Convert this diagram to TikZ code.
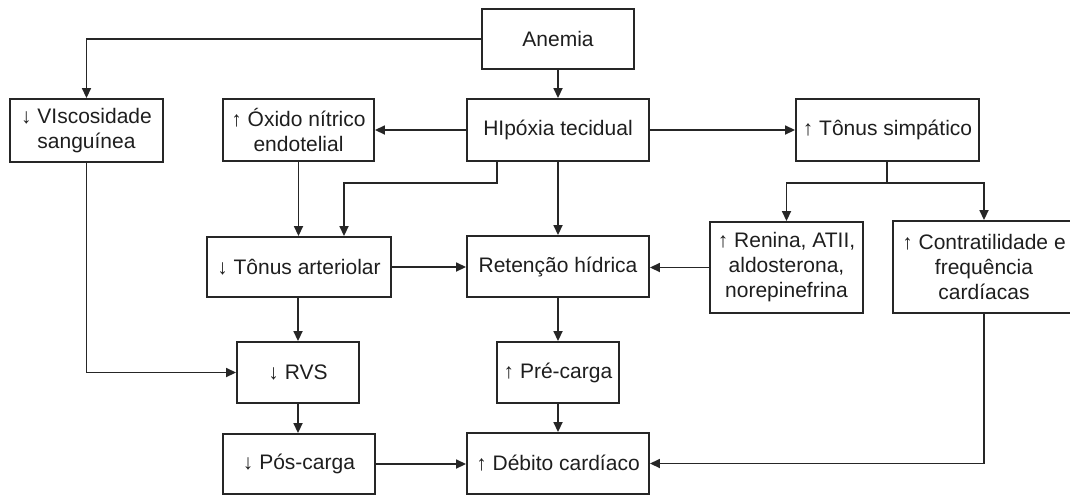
\documentclass[tikz,border=0pt]{standalone}
\usepackage{fontspec}
\setmainfont{Liberation Sans}
\usetikzlibrary{arrows.meta}
\definecolor{ln}{HTML}{262626}
\definecolor{tx}{HTML}{1E1E1E}
\begin{document}
\begin{tikzpicture}[x=1pt,y=-1pt,
  box/.style={draw=ln, line width=1.9pt, inner sep=0pt, align=center, text=tx,
    font=\fontsize{21}{25}\selectfont},
  conn/.style={draw=ln, line width=1.7pt, -{Triangle[length=10pt,width=9pt]}},
  plain/.style={draw=ln, line width=1.7pt}]
\useasboundingbox (0,0) rectangle (1070,496);
\node[box, minimum width=152pt, minimum height=60pt] (anemia) at (558,39) {Anemia};
\node[box, minimum width=153pt, minimum height=63pt] (visc) at (86.5,130.5) {↓ VIscosidade\\sanguínea};
\node[box, minimum width=151pt, minimum height=62pt] (oxido) at (298.5,130) {↑ Óxido nítrico\\endotelial};
\node[box, minimum width=182pt, minimum height=62pt] (hipoxia) at (558,130) {HIpóxia tecidual};
\node[box, minimum width=183pt, minimum height=62pt] (tonsimp) at (887.5,130) {↑ Tônus simpático};
\node[box, minimum width=184pt, minimum height=60pt] (tonart) at (299,267) {↓ Tônus arteriolar};
\node[box, minimum width=182pt, minimum height=61pt] (retencao) at (558,266.5) {Retenção hídrica};
\node[box, minimum width=153pt, minimum height=91pt] (renina) at (786.5,267.5) {↑ Renina, ATII,\\aldosterona,\\norepinefrina};
\node[box, minimum width=182pt, minimum height=92pt] (contrat) at (984,267) {↑ Contratilidade e\\frequência\\cardíacas};
\node[box, minimum width=122pt, minimum height=61pt] (rvs) at (298,372.5) {↓ RVS};
\node[box, minimum width=122pt, minimum height=61pt] (precarga) at (558,372.5) {↑ Pré-carga};
\node[box, minimum width=152pt, minimum height=60pt] (poscarga) at (299,464) {↓ Pós-carga};
\node[box, minimum width=182pt, minimum height=61pt] (debito) at (558,463.5) {↑ Débito cardíaco};

\coordinate (h1) at (497,183);
\coordinate (h2) at (344,183);
\coordinate (s1) at (887,183);
\coordinate (s2) at (786.5,183);
\coordinate (s3) at (984,183);

\draw[conn] (anemia) -- (hipoxia);
\draw[conn] (anemia.west) -| (visc.north);
\draw[conn] (hipoxia.west) -- (oxido.east);
\draw[conn] (hipoxia.east) -- (tonsimp.west);
\draw[conn] (oxido.south) -- (oxido.south |- tonart.north);
\draw[conn] (hipoxia.south -| h1) -- (h1) -- (h2) -- (h2 |- tonart.north);
\draw[conn] (hipoxia) -- (retencao);
\draw[plain] (tonsimp.south -| s1) -- (s1);
\draw[conn] (s1) -- (s2) -- (renina.north);
\draw[conn] (s1) -- (s3) -- (contrat.north);
\draw[conn] (tonart.east) -- (tonart.east -| retencao.west);
\draw[conn] (renina.west) -- (renina.west -| retencao.east);
\draw[conn] (tonart.south -| rvs.north) -- (rvs.north);
\draw[conn] (visc.south) |- (rvs.west);
\draw[conn] (retencao) -- (precarga);
\draw[conn] (precarga) -- (debito);
\draw[conn] (rvs.south) -- (rvs.south |- poscarga.north);
\draw[conn] (poscarga.east) -- (poscarga.east -| debito.west);
\draw[conn] (contrat.south) |- (debito.east);
\end{tikzpicture}
\end{document}
